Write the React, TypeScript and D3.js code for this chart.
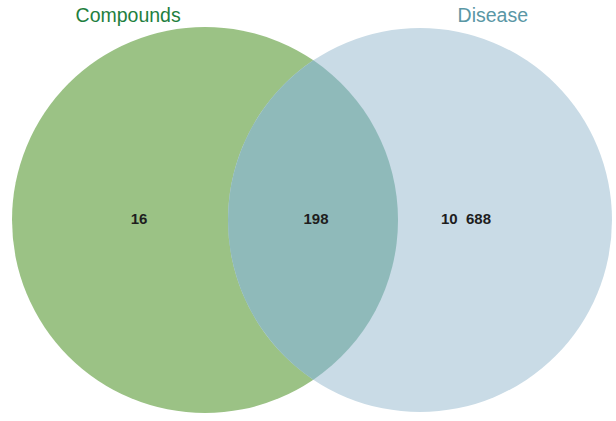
import React from "react";
import * as d3 from "d3";

const setNames = ["Compounds", "Disease"];
const setColors = ["#9bc285", "#c9dbe6"];
const labelColors = ["#1f7f3f", "#5a97a5"];
const overlapColor = "#8fbaba";
// regions: only left, both, only right
const regionCounts = [16, 198, 10688];

const W = 616;
const H = 421;

export default function App() {
  const fmt = d3.formatLocale({ decimal: ".", thousands: " ", grouping: [3], currency: ["", ""] }).format(",d");
  const x = d3.scaleLinear().domain([0, 1]).range([0, W]);
  const y = d3.scaleLinear().domain([0, 1]).range([0, H]);
  const circles = [
    { cx: x(0.3328), cy: y(0.5226), r: 193 },
    { cx: x(0.6818), cy: y(0.5226), r: 192 },
  ];
  const [c1, c2] = circles;
  const d = c2.cx - c1.cx;
  const a = (c1.r * c1.r - c2.r * c2.r + d * d) / (2 * d);
  const h = Math.sqrt(c1.r * c1.r - a * a);
  const ix = c1.cx + a;
  const p1 = [ix, c1.cy - h];
  const p2 = [ix, c1.cy + h];
  const lens = `M${p1[0]},${p1[1]} A${c1.r},${c1.r} 0 0 1 ${p2[0]},${p2[1]} A${c2.r},${c2.r} 0 0 1 ${p1[0]},${p1[1]} Z`;

  const labelX = [x(0.2256), x(0.513), x(0.7565)];
  const setLabelX = [x(0.208), x(0.8)];

  return (
    <svg width={W} height={H} style={{ position: "absolute", left: 0, top: 0 }} fontFamily="'Liberation Sans', Arial, sans-serif">
      <rect width={W} height={H} fill="#fff" />
      {circles.map((c, i) => (
        <circle key={i} cx={c.cx} cy={c.cy} r={c.r} fill={setColors[i]} />
      ))}
      <path d={lens} fill={overlapColor} />
      {setNames.map((n, i) => (
        <text key={n} x={setLabelX[i]} y={22} textAnchor="middle" fontSize={19.5} fill={labelColors[i]}>
          {n}
        </text>
      ))}
      {regionCounts.map((v, i) => (
        <text key={i} x={labelX[i]} y={224} textAnchor="middle" fontSize={15} fontWeight={600} fill="#1e1e1e">
          {fmt(v).replace(" ", "\u00a0\u00a0")}
        </text>
      ))}
    </svg>
  );
}
